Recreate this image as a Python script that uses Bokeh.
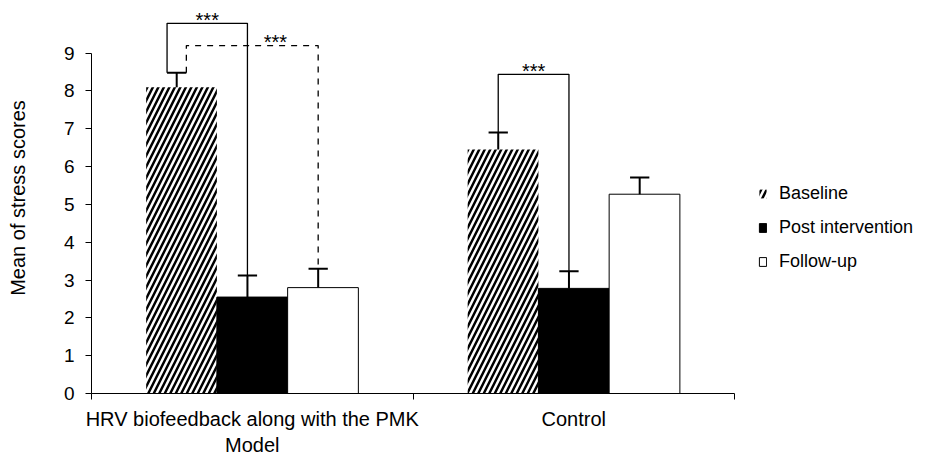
import numpy as np
from bokeh.plotting import figure
from bokeh.models import Range1d, FixedTicker, ColumnDataSource, Legend, LegendItem
from bokeh.core.properties import value
from bokeh.embed import file_html
from bokeh.resources import INLINE

# ---- data ----
groups = ["HRV biofeedback along with the PMK\nModel", "Control"]
series = ["Baseline", "Post intervention", "Follow-up"]
baseline = [8.1, 6.45]
post = [2.55, 2.78]
followup = [2.8, 5.27]
baseline_err = [0.38, 0.45]
post_err = [0.57, 0.45]
followup_err = [0.5, 0.44]
# significance brackets: group, from-series, to-series, level, dash
br_group = [0, 0, 1]
br_from = [0, 0, 0]
br_to = [1, 2, 1]
br_level = [9.79, 9.2, 8.44]
br_dash = ["solid", "dashed", "solid"]
br_label = ["***", "***", "***"]
y_ticks = list(range(10))

FONT = "Liberation Sans"

p = figure(width=939, height=458, output_backend="svg", toolbar_location=None,
           x_range=Range1d(0, 2.625), y_range=Range1d(0, 10.34),
           min_border_left=91, min_border_right=4, min_border_top=2,
           min_border_bottom=65)
p.outline_line_color = None
p.grid.visible = False
p.background_fill_color = "white"
p.border_fill_color = "white"

centers = np.arange(len(groups)) + 0.5
offsets = [-0.22, 0.0, 0.22]
bar_w = 0.22
err_shift = -0.015
cap_half = 0.03

styles = [
    dict(fill_color="white", hatch_pattern="/", hatch_color="black",
         hatch_weight=2.5, hatch_scale=11, line_color=None),
    dict(fill_color="black", line_color="black", line_width=1),
    dict(fill_color="white", line_color="black", line_width=1),
]

vals_all = [baseline, post, followup]
errs_all = [baseline_err, post_err, followup_err]
renderers = []
err_x = []
err_top = []
for k, name in enumerate(series):
    x = centers + offsets[k]
    vals = np.array(vals_all[k], dtype=float)
    up = vals + np.array(errs_all[k], dtype=float)
    src = ColumnDataSource(dict(x=x, top=vals))
    r = p.vbar(x="x", top="top", width=bar_w, bottom=0, source=src, **styles[k])
    renderers.append(r)
    ex = x + err_shift
    err_x.append(ex)
    err_top.append(up)
    p.segment(x0=ex, y0=vals, x1=ex, y1=up, line_color="black", line_width=2)
    p.segment(x0=ex - cap_half, y0=up, x1=ex + cap_half, y1=up,
              line_color="black", line_width=2)

# brackets
leg_side = [-1, 1, 0]
star_shift = [0.0, 0.072, 0.0]
sx, sy = [], []
for i in range(len(br_group)):
    g = br_group[i]
    xa = err_x[br_from[i]][g] + leg_side[i] * cap_half
    ya = err_top[br_from[i]][g]
    xb = err_x[br_to[i]][g]
    yb = err_top[br_to[i]][g]
    lv = br_level[i]
    p.line(x=[xa, xa, xb, xb], y=[ya, lv, lv, yb], line_color="black",
           line_width=1.3, line_dash=br_dash[i])
    sx.append((xa + xb) / 2 + star_shift[i])
    sy.append(lv + 0.1)

p.text(x=sx, y=sy, text=br_label, text_font=value(FONT), text_font_size="20px",
       text_align="center", text_baseline="alphabetic", text_color="black")

# axes
xa_ = p.xaxis[0]
xa_.ticker = FixedTicker(ticks=[float(c) for c in centers], minor_ticks=[0, 1, 2])
xa_.major_label_overrides = {float(c): g for c, g in zip(centers, groups)}
xa_.major_tick_line_color = None
xa_.major_tick_out = 0
xa_.major_tick_in = 0
xa_.minor_tick_line_color = "black"
xa_.minor_tick_in = 0
xa_.minor_tick_out = 6
xa_.bounds = (0, 2)
xa_.major_label_standoff = 8
xa_.major_label_text_font = FONT
xa_.major_label_text_font_size = "20px"
xa_.major_label_text_color = "black"
xa_.axis_line_color = "black"

ya_ = p.yaxis[0]
ya_.ticker = FixedTicker(ticks=y_ticks)
ya_.bounds = (0, 9)
ya_.minor_tick_line_color = None
ya_.major_tick_in = 0
ya_.major_tick_out = 6
ya_.major_tick_line_color = "black"
ya_.axis_line_color = "black"
ya_.major_label_text_font = FONT
ya_.major_label_text_font_size = "19px"
ya_.major_label_text_color = "black"
ya_.major_label_standoff = 11
ya_.axis_label = "Mean of stress scores"
ya_.axis_label_text_font = FONT
ya_.axis_label_text_font_size = "20px"
ya_.axis_label_text_font_style = "normal"
ya_.axis_label_text_color = "black"
ya_.axis_label_standoff = 32

legend = Legend(items=[LegendItem(label=s, renderers=[r]) for s, r in zip(series, renderers)],
                location=(667, 121))
legend.padding = 0
legend.margin = 0
legend.spacing = 13
legend.glyph_width = 9
legend.glyph_height = 11
legend.label_height = 20
legend.label_standoff = 12
legend.label_text_font = FONT
legend.label_text_font_size = "18px"
legend.label_text_color = "black"
legend.border_line_color = None
legend.background_fill_alpha = 0
p.add_layout(legend, "center")

open("out.html", "w").write(file_html(p, INLINE))
